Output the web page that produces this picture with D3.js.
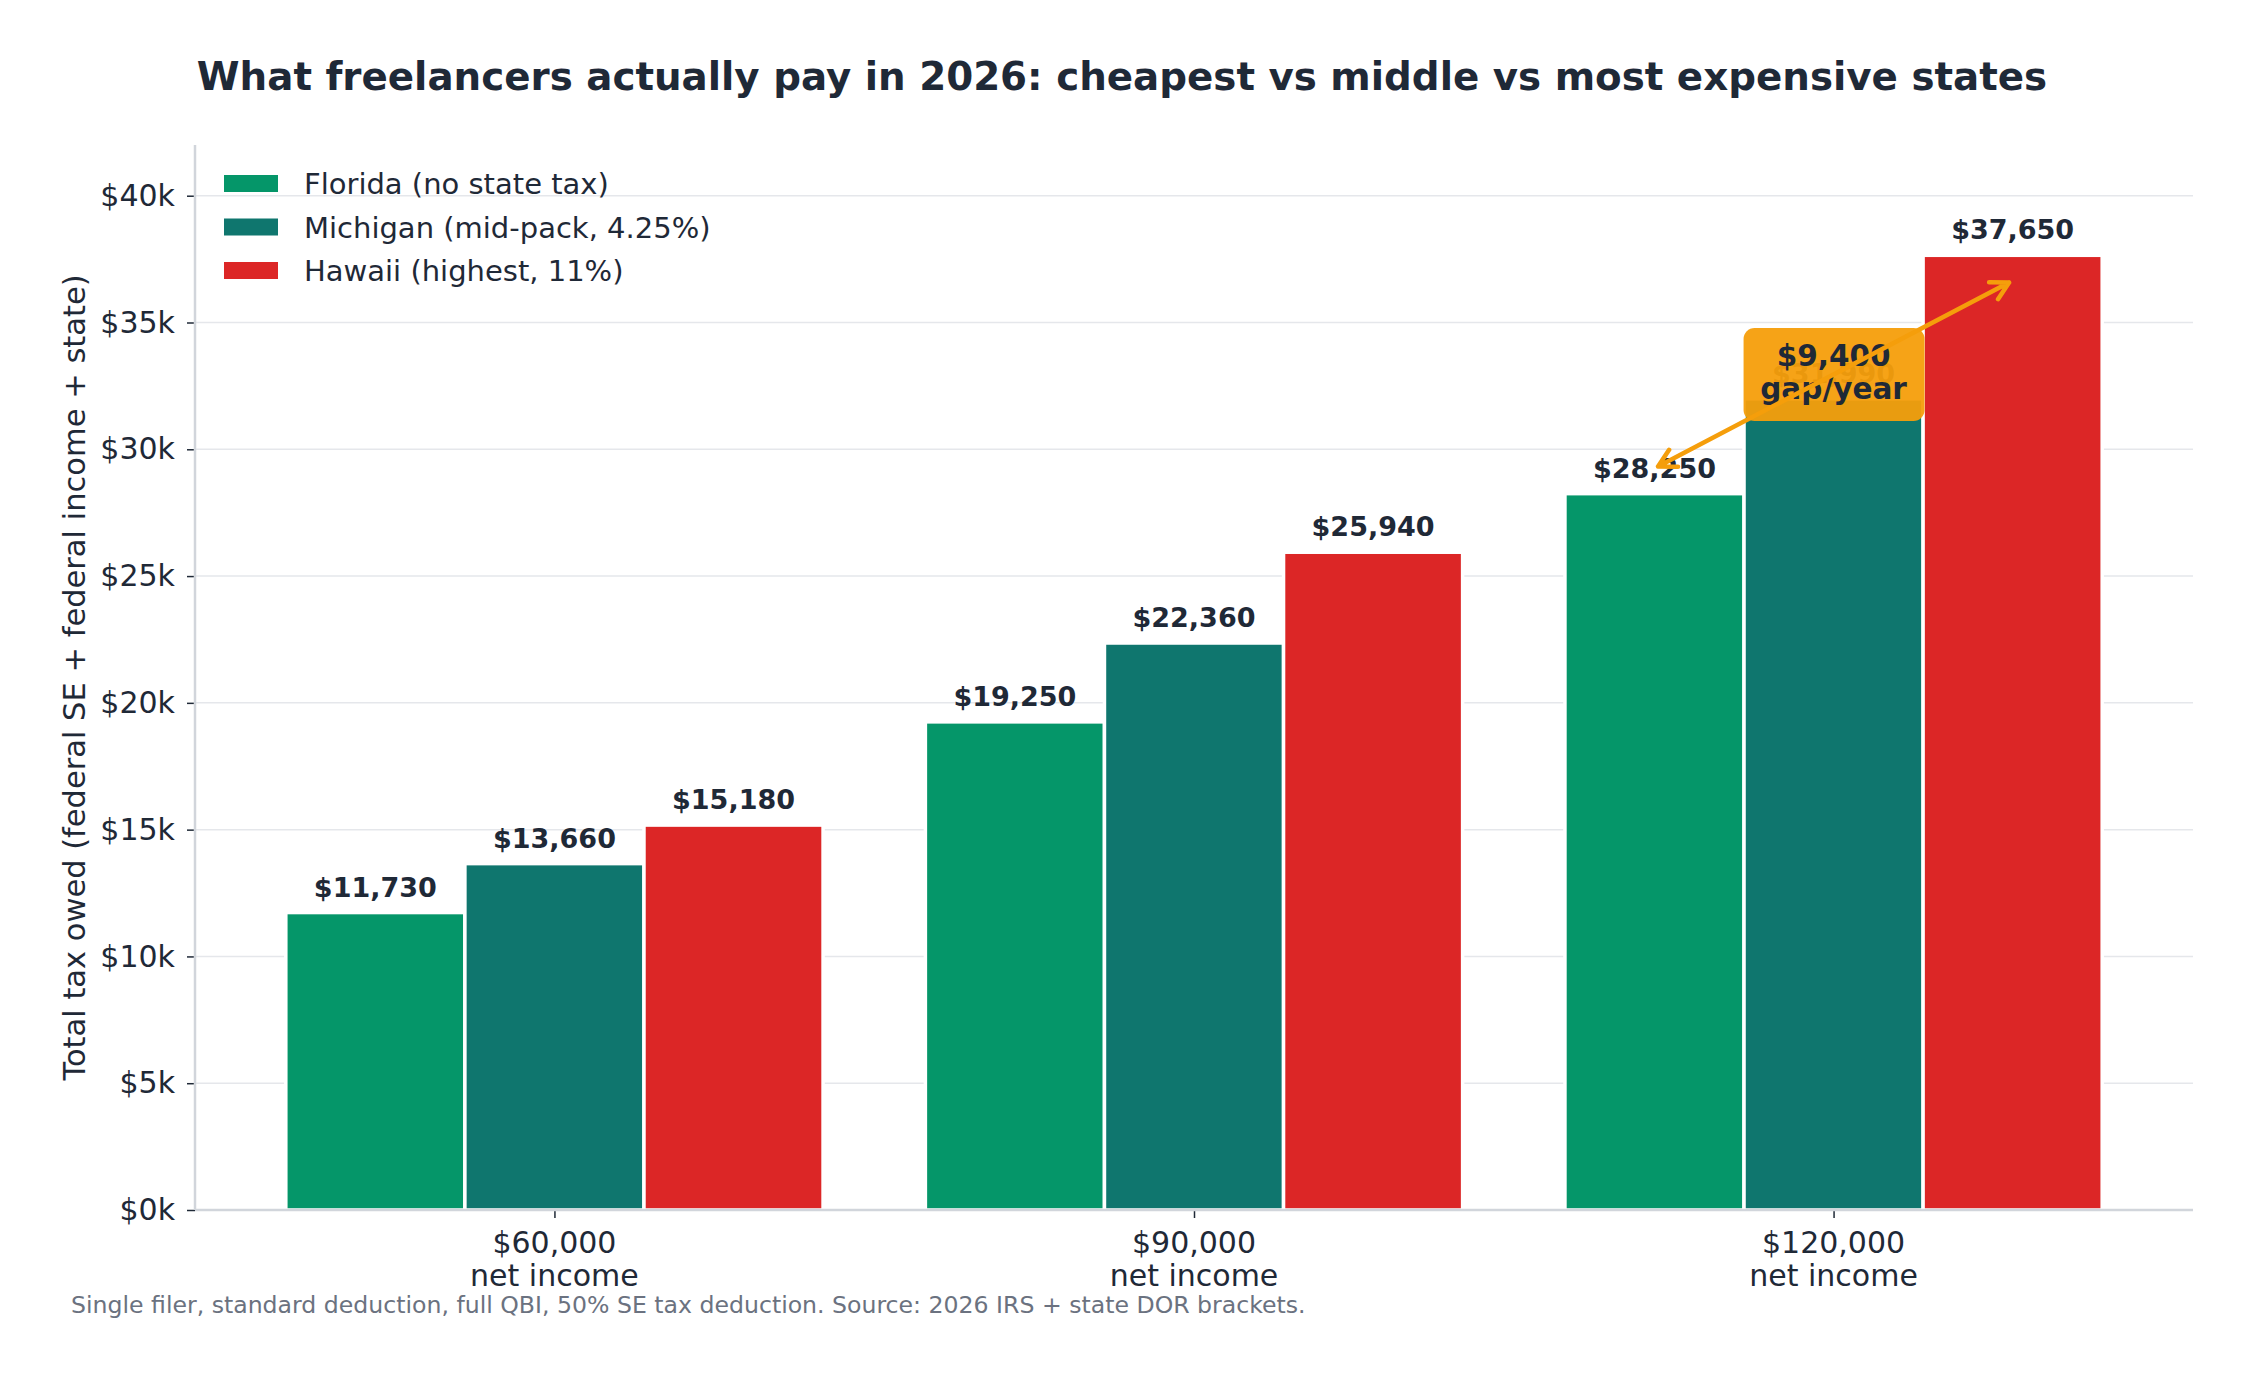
<!DOCTYPE html>
<html>
<head>
<meta charset="utf-8">
<script src="https://cdn.jsdelivr.net/npm/d3@7"></script>
<style>
  html, body { margin: 0; padding: 0; background: #fff; }
  svg { display: block; font-family: "DejaVu Sans", sans-serif; }
</style>
</head>
<body>
<div class="js-chart"></div>
<script>
(function() {
  'use strict';

  /* ------------------------------------------------------------ *\
      Data
  \* ------------------------------------------------------------ */

  var incomes = ['$60,000', '$90,000', '$120,000'];
  var states = [
    'Florida (no state tax)',
    'Michigan (mid-pack, 4.25%)',
    'Hawaii (highest, 11%)'
  ];
  var florida = [11730, 19250, 28250];
  var michigan = [13660, 22360, 31990];
  var hawaii = [15180, 25940, 37650];
  var yTicks = [0, 5000, 10000, 15000, 20000, 25000, 30000, 35000, 40000];

  var series = [florida, michigan, hawaii];
  var colours = ['#059669', '#0f766e', '#dc2626'];

  /* ------------------------------------------------------------ *\
      Sizes
  \* ------------------------------------------------------------ */

  var width = 2252;
  var height = 1379;
  var plot = { left: 195, right: 2193, top: 145, bottom: 1210 };
  var barWidth = 0.28;
  var ink = '#1f2937';

  var x = d3.scaleLinear()
    .domain([-0.562, incomes.length - 1 + 0.562])
    .range([plot.left, plot.right]);

  var y = d3.scaleLinear()
    .domain([0, 42000])
    .range([plot.bottom, plot.top]);

  var svg = d3.select('.js-chart')
    .append('svg')
    .attr('width', width)
    .attr('height', height)
    .attr('viewBox', '0 0 ' + width + ' ' + height);

  /* ------------------------------------------------------------ *\
      Grid
  \* ------------------------------------------------------------ */

  svg.append('g')
    .selectAll('line')
    .data(yTicks)
    .join('line')
    .attr('x1', plot.left)
    .attr('x2', plot.right)
    .attr('y1', function(d) { return y(d); })
    .attr('y2', function(d) { return y(d); })
    .attr('stroke', '#e5e7eb')
    .attr('stroke-width', 1.5);

  /* ------------------------------------------------------------ *\
      Bars + value labels
  \* ------------------------------------------------------------ */

  series.forEach(function(values, s) {
    var offset = (s - 1) * barWidth;
    var g = svg.append('g');

    g.selectAll('rect')
      .data(values)
      .join('rect')
      .attr('x', function(d, i) { return x(i + offset - barWidth / 2); })
      .attr('width', x(barWidth) - x(0))
      .attr('y', function(d) { return y(d); })
      .attr('height', function(d) { return y(0) - y(d); })
      .attr('fill', colours[s])
      .attr('stroke', '#fff')
      .attr('stroke-width', 3.5);

    g.selectAll('text')
      .data(values)
      .join('text')
      .attr('x', function(d, i) { return x(i + offset); })
      .attr('y', function(d) { return y(d) - 16; })
      .attr('text-anchor', 'middle')
      .attr('font-size', 27)
      .attr('font-weight', 'bold')
      .attr('fill', ink)
      .text(function(d) { return '$' + d3.format(',')(d); });
  });

  /* ------------------------------------------------------------ *\
      Axes
  \* ------------------------------------------------------------ */

  var yAxis = svg.append('g')
    .attr('transform', 'translate(' + plot.left + ',0)')
    .call(d3.axisLeft(y)
      .tickValues(yTicks)
      .tickSize(8)
      .tickPadding(12)
      .tickFormat(function(d) { return '$' + d / 1000 + 'k'; }));

  yAxis.select('.domain').remove();
  yAxis.selectAll('.tick line').attr('stroke', ink).attr('stroke-width', 1.5);
  yAxis.selectAll('.tick text')
    .attr('font-size', 30)
    .attr('font-family', '"DejaVu Sans", sans-serif')
    .attr('fill', ink);

  var xAxis = svg.append('g')
    .attr('transform', 'translate(0,' + plot.bottom + ')')
    .call(d3.axisBottom(x)
      .tickValues(d3.range(incomes.length))
      .tickSize(8)
      .tickFormat(''));

  xAxis.select('.domain').remove();
  xAxis.selectAll('.tick line').attr('stroke', ink).attr('stroke-width', 1.5);

  var xLabels = svg.append('g')
    .selectAll('text')
    .data(incomes)
    .join('text')
    .attr('text-anchor', 'middle')
    .attr('font-size', 30)
    .attr('fill', ink);

  xLabels.append('tspan')
    .attr('x', function(d, i) { return x(i); })
    .attr('y', plot.bottom + 43)
    .text(function(d) { return d; });

  xLabels.append('tspan')
    .attr('x', function(d, i) { return x(i); })
    .attr('y', plot.bottom + 76)
    .text('net income');

  // spines
  svg.append('line')
    .attr('x1', plot.left).attr('x2', plot.left)
    .attr('y1', plot.top).attr('y2', plot.bottom)
    .attr('stroke', '#d1d5db')
    .attr('stroke-width', 2.5);

  svg.append('line')
    .attr('x1', plot.left).attr('x2', plot.right)
    .attr('y1', plot.bottom).attr('y2', plot.bottom)
    .attr('stroke', '#d1d5db')
    .attr('stroke-width', 2.5);

  svg.append('text')
    .attr('transform', 'translate(85,' + (plot.top + plot.bottom) / 2 + ') rotate(-90)')
    .attr('text-anchor', 'middle')
    .attr('font-size', 30.5)
    .attr('fill', ink)
    .text('Total tax owed (federal SE + federal income + state)');

  /* ------------------------------------------------------------ *\
      Legend
  \* ------------------------------------------------------------ */

  var legend = svg.append('g')
    .selectAll('g')
    .data(states)
    .join('g')
    .attr('transform', function(d, i) { return 'translate(224,' + (175 + i * 43.5) + ')'; });

  legend.append('rect')
    .attr('width', 54)
    .attr('height', 17)
    .attr('fill', function(d, i) { return colours[i]; });

  legend.append('text')
    .attr('x', 80)
    .attr('y', 19)
    .attr('font-size', 29)
    .attr('fill', ink)
    .text(function(d) { return d; });

  /* ------------------------------------------------------------ *\
      Gap annotation at the top income
  \* ------------------------------------------------------------ */

  var last = incomes.length - 1;
  var low = florida[last];
  var high = hawaii[last];
  var cx = x(last);
  var cy = y((low + high) / 2);

  svg.append('rect')
    .attr('x', cx - 90)
    .attr('y', cy - 46.5)
    .attr('width', 181)
    .attr('height', 93)
    .attr('rx', 11)
    .attr('fill', '#f59e0b')
    .attr('opacity', 0.95);

  var note = svg.append('text')
    .attr('text-anchor', 'middle')
    .attr('font-size', 29.5)
    .attr('font-weight', 'bold')
    .attr('fill', ink);

  note.append('tspan').attr('x', cx).attr('y', cy - 8)
    .text('$' + d3.format(',')(high - low));
  note.append('tspan').attr('x', cx).attr('y', cy + 25)
    .text('gap/year');

  var p0 = [x(last - barWidth), y(low + 1000)];
  var p1 = [x(last + barWidth), y(high - 1000)];
  var len = Math.hypot(p1[0] - p0[0], p1[1] - p0[1]);
  var ux = (p1[0] - p0[0]) / len;
  var uy = (p1[1] - p0[1]) / len;
  var a = [p0[0] + ux * 4, p0[1] + uy * 4];
  var b = [p1[0] - ux * 4, p1[1] - uy * 4];

  function head(tip, dx, dy) {
    var ang = 0.5, size = 20;
    var c = Math.cos(ang), s = Math.sin(ang);
    var l = [tip[0] + size * (dx * c - dy * s), tip[1] + size * (dx * s + dy * c)];
    var r = [tip[0] + size * (dx * c + dy * s), tip[1] + size * (-dx * s + dy * c)];
    return 'M' + l[0] + ',' + l[1] + 'L' + tip[0] + ',' + tip[1] + 'L' + r[0] + ',' + r[1];
  }

  svg.append('path')
    .attr('d', 'M' + a[0] + ',' + a[1] + 'L' + b[0] + ',' + b[1] +
      head(a, ux, uy) + head(b, -ux, -uy))
    .attr('fill', 'none')
    .attr('stroke', '#f59e0b')
    .attr('stroke-width', 4.5)
    .attr('stroke-linecap', 'round')
    .attr('stroke-linejoin', 'round');

  /* ------------------------------------------------------------ *\
      Title + footnote
  \* ------------------------------------------------------------ */

  svg.append('text')
    .attr('x', width / 2 - 4)
    .attr('y', 90)
    .attr('text-anchor', 'middle')
    .attr('font-size', 38.8)
    .attr('font-weight', 'bold')
    .attr('fill', ink)
    .text('What freelancers actually pay in 2026: cheapest vs middle vs most expensive states');

  svg.append('text')
    .attr('x', 71)
    .attr('y', 1313)
    .attr('font-size', 23.6)
    .attr('fill', '#6b7280')
    .text('Single filer, standard deduction, full QBI, 50% SE tax deduction. Source: 2026 IRS + state DOR brackets.');
})();
</script>
</body>
</html>
